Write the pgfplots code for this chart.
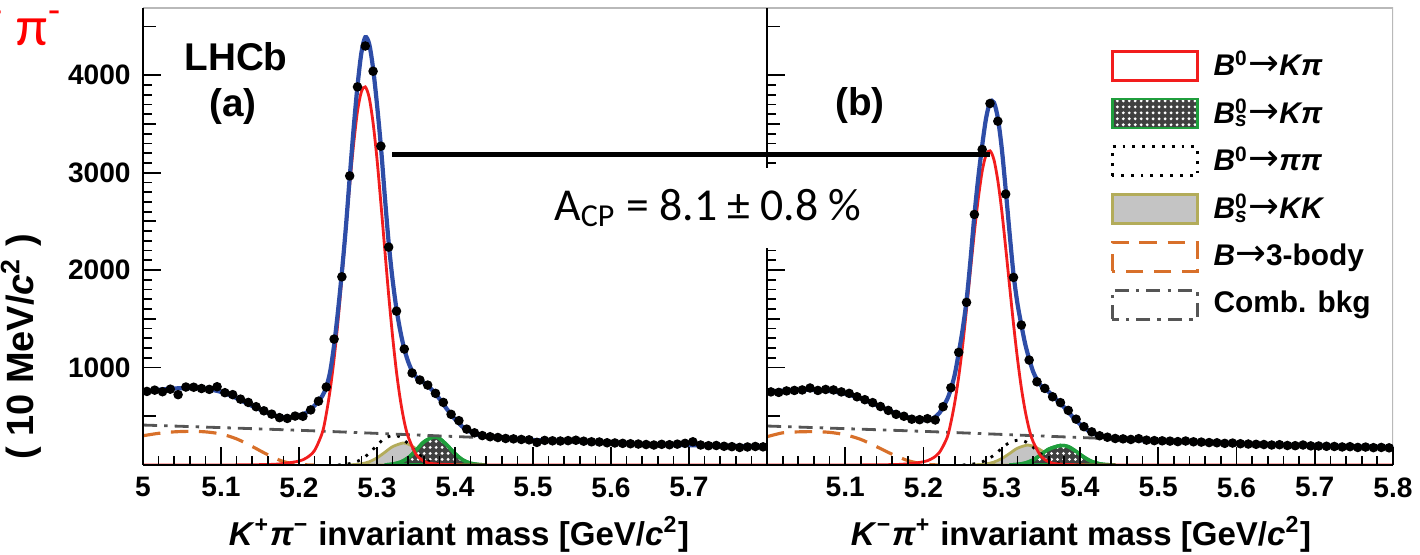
\documentclass[border=0pt]{standalone}
\usepackage{fontspec}
\setmainfont{Liberation Sans}
\newfontfamily\carlito{Carlito}
\newfontfamily\dejavu{DejaVu Sans}
\usepackage{pgfplots}
\pgfplotsset{compat=1.18}
\usetikzlibrary{patterns.meta}
\definecolor{cBlue}{HTML}{2E4DA7}
\definecolor{cRed}{HTML}{F21D1D}
\definecolor{cGreen}{HTML}{1F9E3C}
\definecolor{cOlive}{HTML}{B3AC5A}
\definecolor{cGray}{HTML}{C4C4C4}
\definecolor{cOrange}{HTML}{D8702A}
\definecolor{cComb}{HTML}{555555}
\newcommand{\arr}{{\dejavu\mdseries\upshape\fontsize{10.5}{10}\selectfont →}}
\newcommand{\zero}{\textsuperscript{\upshape 0}}
\newcommand{\Bs}{B\rlap{\zero}\textsubscript{s}}

\pgfplotsset{
  lhcb/.style={
    scale only axis, height=4.57cm,
    xmin=5, xmax=5.8, ymin=0, ymax=4690,
    axis lines*=left, axis on top,
    axis line style={line width=0.7pt},
    tick align=inside, major tick length=0.18cm, minor tick length=0.09cm,
    tick style={black, line width=0.5pt},
    xtick={5,5.1,5.2,5.3,5.4,5.5,5.6,5.7,5.8}, minor x tick num=4,
    ytick={1000,2000,3000,4000}, minor y tick num=9,
    extra y ticks={500,1500,2500,3500,4500}, extra y tick labels={},
    extra y tick style={major tick length=0.13cm},
    tick label style={font=\fontsize{8}{8}\selectfont\bfseries},
  },
  total/.style={forget plot, cBlue, line width=1.2pt, smooth},
  sig/.style={forget plot, cRed, line width=0.8pt, smooth},
  pts/.style={forget plot, only marks, mark=*, mark size=1.15pt, black},
}

\begin{document}
\begin{tikzpicture}
\useasboundingbox (0,0) rectangle (14.2,5.55);

% ---------------- (a) K+ pi- ----------------
\begin{axis}[lhcb, at={(1.43cm,0.90cm)}, anchor=south west, width=6.24cm,
  xticklabels={5,5.1,5.2,5.3,5.4,5.5,5.6,5.7,},
  yticklabels={1000,2000,3000,4000}]
% Bs -> KK
\addplot[forget plot, draw=cOlive, line width=0.8pt, fill=cGray, smooth] coordinates {
(5.26,0) (5.27,4) (5.28,12) (5.29,33) (5.30,73) (5.31,130) (5.32,188) (5.333,225) (5.34,215)
(5.35,167) (5.36,106) (5.37,55) (5.38,23) (5.39,8) (5.40,2) (5.41,0)} \closedcycle;
% Bs -> K pi
\addplot[forget plot, draw=cGreen, line width=1pt, fill=black!75,
  postaction={pattern={Dots[distance=1.7pt,radius=0.45pt]}, pattern color=white}, smooth] coordinates {
(5.31,0) (5.32,9) (5.33,29) (5.34,74) (5.35,150) (5.36,236) (5.373,290) (5.38,273) (5.39,202)
(5.40,117) (5.41,52) (5.42,18) (5.43,5) (5.44,0)} \closedcycle;
% B0 -> pi pi
\addplot[forget plot, black, dotted, line width=0.8pt, smooth] coordinates {
(5.25,0) (5.26,8) (5.27,23) (5.28,58) (5.29,120) (5.30,202) (5.31,275) (5.322,305) (5.33,285)
(5.34,218) (5.35,136) (5.36,69) (5.37,28) (5.38,9) (5.39,3) (5.40,0)};
% 3-body
\addplot[forget plot, cOrange, dashed, dash pattern=on 5pt off 3pt, line width=0.9pt, smooth] coordinates {
(5.00,300) (5.02,325) (5.04,340) (5.06,345) (5.08,340) (5.10,318) (5.12,268) (5.14,190)
(5.16,105) (5.18,35) (5.20,6) (5.22,0)};
% combinatorial
\addplot[forget plot, cComb, dash pattern=on 4pt off 2pt on 1pt off 2pt, line width=0.8pt, smooth] coordinates {
(5.0,410) (5.2,356) (5.4,292) (5.6,230) (5.8,186)};
% B0 -> K pi
\addplot[sig] coordinates {
(5.00,0) (5.10,0) (5.16,5) (5.18,15) (5.20,40) (5.21,75) (5.22,150) (5.23,335) (5.235,525)
(5.24,775) (5.245,1090) (5.25,1475) (5.255,1925) (5.26,2405) (5.265,2872) (5.27,3290)
(5.275,3630) (5.28,3830) (5.285,3880) (5.29,3770) (5.295,3510) (5.30,3140) (5.305,2686)
(5.31,2210) (5.315,1743) (5.32,1320) (5.325,955) (5.33,665) (5.335,443) (5.34,290) (5.35,110)
(5.36,40) (5.37,15) (5.40,3) (5.45,0) (5.80,0)};
% total fit
\addplot[total] coordinates {
(5.00,752) (5.02,772) (5.04,785) (5.06,790) (5.08,782) (5.10,750) (5.12,685) (5.14,605)
(5.16,535) (5.17,505) (5.18,490) (5.19,490) (5.20,505) (5.21,540) (5.22,610) (5.23,710)
(5.235,800) (5.24,960) (5.245,1230) (5.25,1580) (5.255,1980) (5.26,2430) (5.265,2950)
(5.27,3450) (5.275,3890) (5.28,4230) (5.285,4390) (5.29,4320) (5.295,4070) (5.30,3700)
(5.305,3270) (5.31,2760) (5.315,2280) (5.32,1900) (5.325,1600) (5.33,1370) (5.335,1190)
(5.34,1060) (5.345,965) (5.35,905) (5.36,845) (5.37,775) (5.38,680) (5.39,570) (5.40,470)
(5.41,390) (5.42,340) (5.43,308) (5.44,292) (5.46,278) (5.50,256) (5.55,243) (5.60,228)
(5.65,214) (5.70,204) (5.75,196) (5.80,188)};
% data
\addplot[pts] coordinates {
(5.005,755) (5.015,768) (5.025,752) (5.035,778) (5.045,722) (5.055,800) (5.065,798) (5.075,785)
(5.085,776) (5.095,803) (5.105,742) (5.115,722) (5.125,676) (5.135,642) (5.145,598) (5.155,556)
(5.165,522) (5.175,486) (5.185,478) (5.195,502) (5.205,500) (5.215,565) (5.225,655) (5.235,800)
(5.245,1292) (5.255,1931) (5.265,2967) (5.275,3880) (5.285,4300) (5.295,4041) (5.305,3272) (5.315,2236)
(5.325,1579) (5.335,1190) (5.345,944) (5.355,872) (5.365,820) (5.375,735) (5.385,642) (5.395,520)
(5.405,455) (5.415,368) (5.425,330) (5.435,302) (5.445,290) (5.455,282) (5.465,272) (5.475,268)
(5.485,262) (5.495,258) (5.505,232) (5.515,252) (5.525,248) (5.535,246) (5.545,250) (5.555,254)
(5.565,244) (5.575,238) (5.585,236) (5.595,228) (5.605,226) (5.615,222) (5.625,218) (5.635,215)
(5.645,210) (5.655,205) (5.665,212) (5.675,208) (5.685,214) (5.695,222) (5.705,238) (5.715,205)
(5.725,198) (5.735,200) (5.745,192) (5.755,188) (5.765,180) (5.775,185) (5.785,190) (5.795,186)};
\draw[gray!55, line width=0.8pt] (rel axis cs:0,1) -- (rel axis cs:1,1);
\end{axis}

% ---------------- (b) K- pi+ ----------------
\begin{axis}[lhcb, at={(7.67cm,0.90cm)}, anchor=south west, width=6.26cm,
  xticklabels={,5.1,5.2,5.3,5.4,5.5,5.6,5.7,5.8},
  yticklabels={},
  legend image code/.code={\draw[#1] (0cm,-0.145cm) rectangle (0.85cm,0.145cm);},
  legend style={at={(0.548,0.91)}, anchor=north west, draw=none, fill=none,
    inner sep=0pt, row sep=0.16cm,
    nodes={inner sep=0pt, anchor=west},
    font=\fontsize{8.5}{8.5}\selectfont\bfseries\itshape,
    /tikz/every odd column/.style={column sep=0.15cm}},
  legend cell align=left]
\addplot[forget plot, draw=cOlive, line width=0.8pt, fill=cGray, smooth] coordinates {
(5.26,0) (5.27,4) (5.28,11) (5.29,30) (5.30,66) (5.31,118) (5.32,172) (5.333,205) (5.34,195)
(5.35,152) (5.36,96) (5.37,50) (5.38,21) (5.39,7) (5.40,2) (5.41,0)} \closedcycle;
\addplot[forget plot, draw=cGreen, line width=1pt, fill=black!75,
  postaction={pattern={Dots[distance=1.7pt,radius=0.45pt]}, pattern color=white}, smooth] coordinates {
(5.31,0) (5.32,6) (5.33,20) (5.34,51) (5.35,104) (5.36,162) (5.375,200) (5.385,188) (5.395,139)
(5.405,81) (5.415,36) (5.425,12) (5.435,3) (5.445,0)} \closedcycle;
\addplot[forget plot, black, dotted, line width=0.8pt, smooth] coordinates {
(5.25,0) (5.26,7) (5.27,19) (5.28,49) (5.29,101) (5.30,170) (5.31,231) (5.322,256) (5.33,240)
(5.34,183) (5.35,114) (5.36,58) (5.37,24) (5.38,8) (5.39,3) (5.40,0)};
\addplot[forget plot, cOrange, dashed, dash pattern=on 5pt off 3pt, line width=0.9pt, smooth] coordinates {
(5.00,290) (5.02,330) (5.04,340) (5.06,342) (5.08,335) (5.10,310) (5.12,262) (5.14,188)
(5.16,110) (5.18,45) (5.20,10) (5.22,0)};
\addplot[forget plot, cComb, dash pattern=on 4pt off 2pt on 1pt off 2pt, line width=0.8pt, smooth] coordinates {
(5.0,400) (5.2,345) (5.4,282) (5.6,222) (5.8,176)};
\addplot[sig] coordinates {
(5.00,0) (5.10,0) (5.16,4) (5.18,12) (5.20,33) (5.21,62) (5.22,125) (5.23,278) (5.235,436)
(5.24,644) (5.245,906) (5.25,1226) (5.255,1600) (5.26,1999) (5.265,2387) (5.27,2734)
(5.275,3016) (5.28,3183) (5.285,3224) (5.29,3133) (5.295,2917) (5.30,2609) (5.305,2232)
(5.31,1837) (5.315,1449) (5.32,1097) (5.325,794) (5.33,553) (5.335,368) (5.34,241) (5.35,91)
(5.36,33) (5.37,12) (5.40,2) (5.45,0) (5.80,0)};
\addplot[total] coordinates {
(5.00,752) (5.02,762) (5.04,770) (5.06,770) (5.08,760) (5.10,732) (5.12,682) (5.14,615)
(5.16,545) (5.18,490) (5.19,470) (5.20,462) (5.21,470) (5.22,530) (5.23,670) (5.235,780)
(5.24,930) (5.245,1150) (5.25,1390) (5.255,1690) (5.26,2100) (5.265,2560) (5.27,2950)
(5.275,3280) (5.28,3560) (5.285,3720) (5.29,3720) (5.295,3560) (5.30,3250) (5.305,2830)
(5.31,2380) (5.315,1960) (5.32,1660) (5.325,1440) (5.33,1240) (5.335,1090) (5.34,960)
(5.345,875) (5.35,815) (5.36,750) (5.37,670) (5.38,590) (5.39,500) (5.40,420) (5.41,355)
(5.42,315) (5.43,290) (5.44,276) (5.46,264) (5.50,246) (5.55,236) (5.60,222) (5.65,210)
(5.70,200) (5.75,190) (5.80,182)};
\addplot[pts] coordinates {
(5.005,750) (5.015,745) (5.025,760) (5.035,765) (5.045,770) (5.055,790) (5.065,765) (5.075,775)
(5.085,770) (5.095,750) (5.105,735) (5.115,700) (5.125,670) (5.135,640) (5.145,600) (5.155,560)
(5.165,520) (5.175,500) (5.185,470) (5.195,465) (5.205,475) (5.215,462) (5.225,598) (5.235,793)
(5.245,1156) (5.255,1669) (5.265,2571) (5.275,3238) (5.285,3710) (5.295,3528) (5.305,2780) (5.315,1925)
(5.325,1436) (5.335,1077) (5.345,854) (5.355,786) (5.365,700) (5.375,640) (5.385,560) (5.395,470)
(5.405,393) (5.415,340) (5.425,300) (5.435,285) (5.445,272) (5.455,268) (5.465,262) (5.475,270)
(5.485,255) (5.495,250) (5.505,248) (5.515,245) (5.525,240) (5.535,246) (5.545,238) (5.555,235)
(5.565,230) (5.575,228) (5.585,222) (5.595,225) (5.605,218) (5.615,215) (5.625,212) (5.635,210)
(5.645,205) (5.655,208) (5.665,200) (5.675,198) (5.685,205) (5.695,196) (5.705,195) (5.715,192)
(5.725,190) (5.735,185) (5.745,188) (5.755,180) (5.765,184) (5.775,178) (5.785,180) (5.795,176)};
\addlegendimage{draw=cRed, line width=0.8pt, fill=white}
\addlegendentry{B\zero\arr Kπ}
\addlegendimage{draw=cGreen, line width=0.8pt, fill=black!75,
  postaction={pattern={Dots[distance=1.7pt,radius=0.45pt]}, pattern color=white}}
\addlegendentry{\Bs\arr Kπ}
\addlegendimage{draw=black, dotted, line width=0.8pt, fill=white}
\addlegendentry{B\zero\arr ππ}
\addlegendimage{draw=cOlive, line width=0.8pt, fill=cGray}
\addlegendentry{\Bs\arr KK}
\addlegendimage{draw=cOrange, dash pattern=on 5pt off 3pt, line width=0.8pt, fill=white}
\addlegendentry{B\arr{\upshape 3-body}}
\addlegendimage{draw=cComb, dash pattern=on 4pt off 2pt on 1pt off 2pt, line width=0.8pt, fill=white}
\addlegendentry{{\upshape Comb. bkg}}
\draw[gray!55, line width=0.8pt] (rel axis cs:0,1) -- (rel axis cs:1,1) -- (rel axis cs:1,0);
\end{axis}

% annotations
\node at (2.36,4.98) {\fontsize{11}{11}\selectfont\bfseries LHCb};
\node at (2.33,4.48) {\fontsize{11}{11}\selectfont\bfseries (a)};
\node at (8.60,4.49) {\fontsize{11}{11}\selectfont\bfseries (b)};
\draw[line width=0.05cm] (3.92,4.00) -- (9.90,4.00);
\node[fill=white, inner xsep=0.12cm, minimum height=0.8cm] at (7.08,3.47)
  {\carlito\fontsize{13}{13}\selectfont A\textsubscript{CP} = 8.1 ± 0.8 \%};
\node[anchor=base, font=\fontsize{9.4}{9.4}\selectfont\bfseries] at (4.59,0.09)
  {\textit{K}\textsuperscript{+}\textit{π}\textsuperscript{−} invariant mass [GeV/\textit{c}\textsuperscript{2}]};
\node[anchor=base, font=\fontsize{9.4}{9.4}\selectfont\bfseries] at (10.81,0.09)
  {\textit{K}\textsuperscript{−}\textit{π}\textsuperscript{+} invariant mass [GeV/\textit{c}\textsuperscript{2}]};
\node[rotate=90, font=\fontsize{10.8}{10.8}\selectfont\bfseries] at (0.21,2.08)
  {( 10 MeV/\textit{c}\textsuperscript{2} )};
\node[anchor=west, text=red] at (-0.22,5.27)
  {\carlito\fontsize{16}{16}\selectfont\textsuperscript{-} π\textsuperscript{-}};
\end{tikzpicture}
\end{document}
